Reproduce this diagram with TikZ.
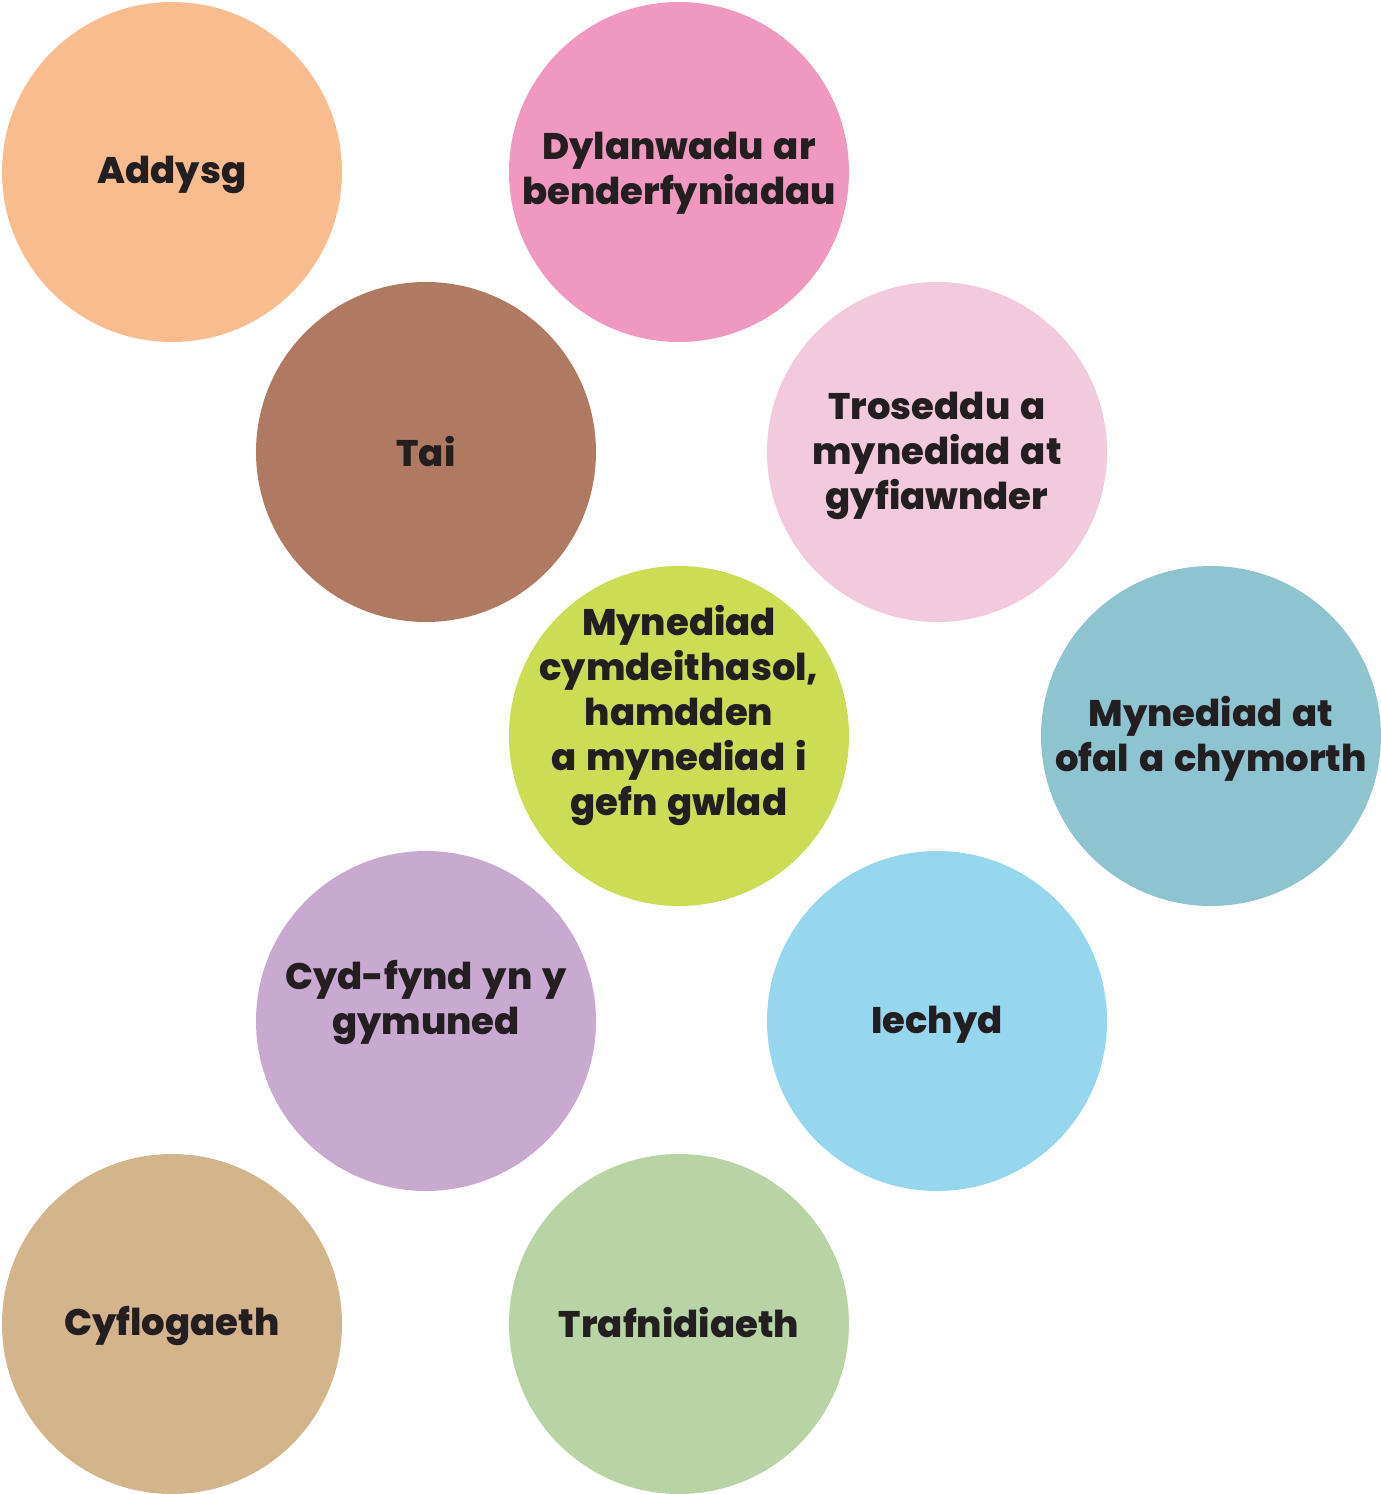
\documentclass[tikz,border=0pt]{standalone}
\usepackage{fontspec}
\setmainfont{Poppins}[BoldFont={Poppins ExtraBold},WordSpace=1.4]
\definecolor{txt}{HTML}{231F20}
\definecolor{cA}{HTML}{F9BC8F}
\definecolor{cB}{HTML}{F098C0}
\definecolor{cC}{HTML}{B07A62}
\definecolor{cD}{HTML}{F3C9DD}
\definecolor{cE}{HTML}{CDDC55}
\definecolor{cF}{HTML}{8DC4D0}
\definecolor{cG}{HTML}{C8A9CF}
\definecolor{cH}{HTML}{96D6EE}
\definecolor{cI}{HTML}{D4B48A}
\definecolor{cJ}{HTML}{B8D4A5}
\begin{document}
\begin{tikzpicture}[x=1pt,y=-1pt,
  bubble/.style={circle,minimum size=340pt,inner sep=0pt,draw=none},
  lbl/.style={text=txt,align=center,font=\fontsize{37}{45}\selectfont\bfseries}]
\useasboundingbox (0,0) rectangle (1381,1494);
\node[bubble,fill=cA] (addysg) at (172,172) {};
\node[bubble,fill=cB] (dylan) at (679,172) {};
\node[bubble,fill=cC] (tai) at (426,452) {};
\node[bubble,fill=cD] (trosedd) at (937,452) {};
\node[bubble,fill=cE] (myn) at (679,736) {};
\node[bubble,fill=cF] (gofal) at (1211,736) {};
\node[bubble,fill=cG] (cyd) at (426,1021) {};
\node[bubble,fill=cH] (iechyd) at (937,1021) {};
\node[bubble,fill=cI] (cyflog) at (172,1324) {};
\node[bubble,fill=cJ] (traf) at (679,1324) {};
\node[lbl] (addysgT) at (172,175) {Addysg};
\node[lbl] (dylanT) at (679,173) {Dylanwadu ar\\benderfyniadau};
\node[lbl] (taiT) at (426,452) {Tai};
\node[lbl] (troseddT) at (937,456) {Troseddu a\\mynediad at\\gyfiawnder};
\node[lbl] (mynT) at (679,716) {Mynediad\\cymdeithasol,\\hamdden\\a mynediad i\\gefn gwlad};
\node[lbl] (gofalT) at (1211,739) {Mynediad at\\ofal a chymorth};
\node[lbl] (cydT) at (426,1002) {Cyd-fynd yn y\\gymuned};
\node[lbl] (iechydT) at (937,1025) {Iechyd};
\node[lbl] (cyflogT) at (172,1326) {Cyflogaeth};
\node[lbl] (trafT) at (679,1323) {Trafnidiaeth};
\end{tikzpicture}
\end{document}
